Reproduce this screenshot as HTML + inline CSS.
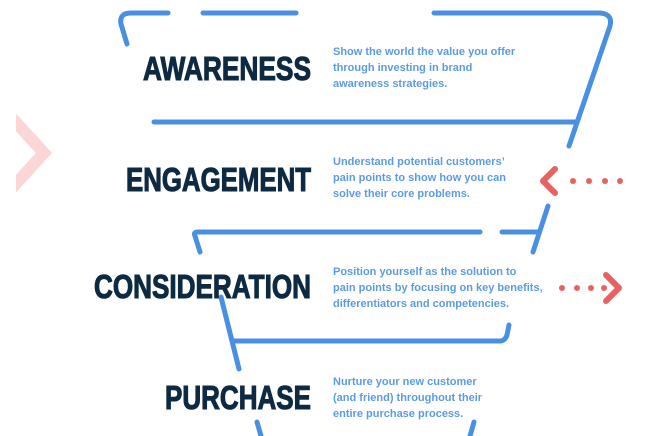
<!DOCTYPE html>
<html><head><meta charset="utf-8"><style>
html,body{margin:0;padding:0;background:#fff;width:646px;height:436px;overflow:hidden}
svg{display:block}
.t{font-family:"Liberation Sans Narrow","Liberation Sans",sans-serif;font-weight:bold;fill:#0e2a42;stroke:#0e2a42;stroke-width:1.1;font-size:33px}
.d{font-family:"Liberation Sans",sans-serif;fill:#5b9be6;font-size:11px;font-weight:bold}
</style></head><body>
<svg width="646" height="436" viewBox="0 0 646 436" xmlns="http://www.w3.org/2000/svg">
<g fill="none" stroke="#4a90e2" stroke-width="5" stroke-linecap="round" stroke-linejoin="round">
<path d="M127 44 L121 24 Q119 13 131 13 L168 13"/>
<path d="M203 13 L296 13"/>
<path d="M434 13 L600 13 Q613 14 610 26 L569 146"/>
<path d="M154 122 L575 122"/>
<path d="M548 206 L533 252"/>
<path d="M200 252 L195 236 Q193 232 198 232 L480 232"/>
<path d="M502 232 L538 232"/>
<path d="M221 297 L239 369"/>
<path d="M233 341 L500 341 Q505 341 507 335 L509 325"/>
<path d="M257 422 L261 436"/>
<path d="M474 422 L470 436"/>
</g>
<path d="M12 118 L44 153 L12 188" fill="none" stroke="#fbd6d6" stroke-width="12" stroke-linejoin="miter"/>
<rect x="0" y="100" width="16" height="100" fill="#fff"/>
<g fill="#e86262">
<circle cx="573" cy="181" r="3"/><circle cx="589" cy="181" r="3"/><circle cx="605" cy="181" r="3"/><circle cx="620" cy="181" r="3"/>
<circle cx="562" cy="288" r="3"/><circle cx="577" cy="288" r="3"/><circle cx="591" cy="288" r="3"/><circle cx="604" cy="288" r="3"/>
</g>
<g fill="none" stroke="#e86262" stroke-width="6" stroke-linecap="round" stroke-linejoin="round">
<path d="M555 169 L543 181 L555 193"/>
<path d="M606 275 L619 288 L606 301"/>
</g>
<text class="t" x="143" y="80" textLength="168" lengthAdjust="spacingAndGlyphs">AWARENESS</text>
<text class="t" x="126" y="191" textLength="185" lengthAdjust="spacingAndGlyphs">ENGAGEMENT</text>
<text class="t" x="94" y="298" textLength="217" lengthAdjust="spacingAndGlyphs">CONSIDERATION</text>
<text class="t" x="165" y="409" textLength="146" lengthAdjust="spacingAndGlyphs">PURCHASE</text>
<g class="d">
<text x="333" y="55">Show the world the value you offer</text>
<text x="333" y="71">through investing in brand</text>
<text x="333" y="87">awareness strategies.</text>
<text x="333" y="165">Understand potential customers’</text>
<text x="333" y="181">pain points to show how you can</text>
<text x="333" y="197">solve their core problems.</text>
<text x="333" y="275">Position yourself as the solution to</text>
<text x="333" y="291">pain points by focusing on key benefits,</text>
<text x="333" y="307">differentiators and competencies.</text>
<text x="333" y="385">Nurture your new customer</text>
<text x="333" y="401">(and friend) throughout their</text>
<text x="333" y="417">entire purchase process.</text>
</g>
</svg>
</body></html>
